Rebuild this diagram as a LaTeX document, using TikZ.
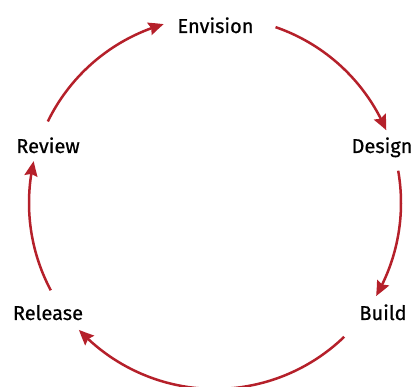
\documentclass[tikz,border=0pt]{standalone}
\usepackage{fontspec}
\newfontfamily\labelfont{Fira Sans}[FakeBold=0.6]
\usetikzlibrary{arrows.meta, bending}
\definecolor{cyclered}{HTML}{B5202A}

\begin{document}
\begin{tikzpicture}[x=1pt,y=1pt,
  every node/.style={font=\labelfont\fontsize{20}{22}\selectfont,anchor=base,inner sep=0pt},
  cyc/.style={draw=cyclered,line width=2.5pt,-{Stealth[length=15pt,width=13pt,inset=2pt,bend]}}]
  \useasboundingbox (0,0) rectangle (416,387);
  \coordinate (c) at (215,184);
  \path (215.5,354) node (envision) {Envision} (382,234) node (design) {Design}
  (383,67) node (build) {Build} (48,67) node (release) {Release} (48,234) node (review) {Review};
  % arcs of the cycle
  \path (c) ++(154:186pt) coordinate (s1) (c) ++(71:186pt) coordinate (s2)
  (c) ++(10:186pt) coordinate (s3) (c) ++(-46:186pt) coordinate (s4) (c) ++(208:186pt) coordinate (s5);
  \draw[cyc] (s1) arc[start angle=154,end angle=106,radius=186pt];
  \draw[cyc] (s2) arc[start angle=71,end angle=23,radius=186pt];
  \draw[cyc] (s3) arc[start angle=10,end angle=-30,radius=186pt];
  \draw[cyc] (s4) arc[start angle=-46,end angle=-137,radius=186pt];
  \draw[cyc] (s5) arc[start angle=208,end angle=167,radius=186pt];
\end{tikzpicture}
\end{document}
